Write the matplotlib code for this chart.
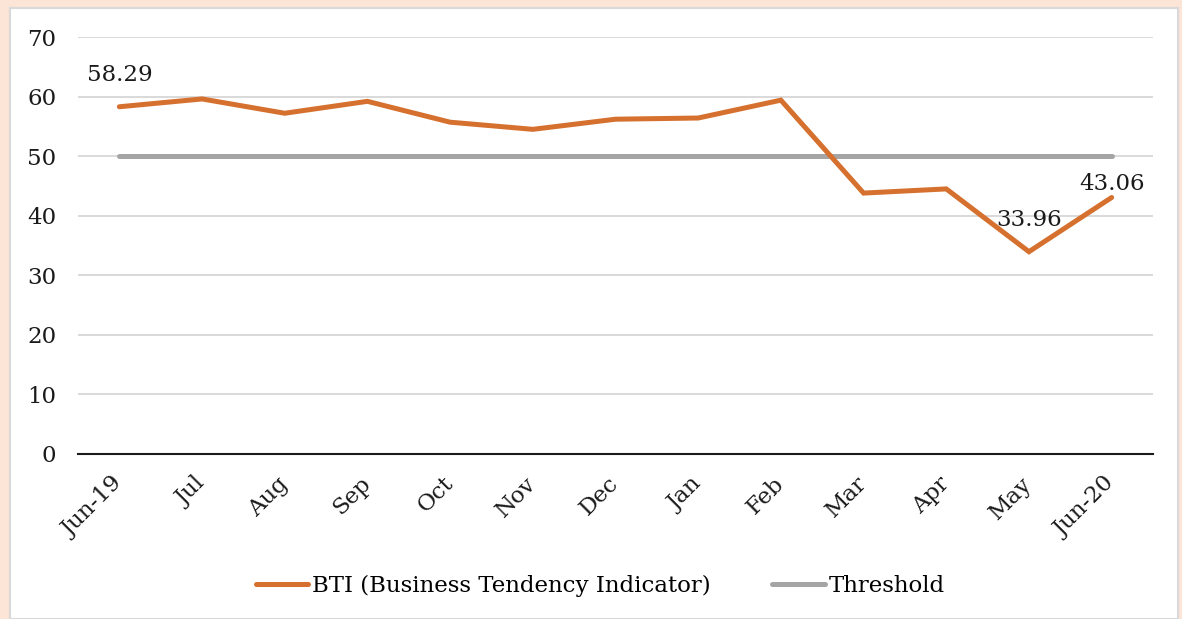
import matplotlib
matplotlib.use("Agg")
import matplotlib.pyplot as plt
from matplotlib.patches import Rectangle

months = ["Jun-19", "Jul", "Aug", "Sep", "Oct", "Nov", "Dec", "Jan", "Feb",
          "Mar", "Apr", "May", "Jun-20"]
bti = [58.29, 59.6, 57.2, 59.2, 55.7, 54.5, 56.2, 56.4, 59.4, 43.8, 44.5, 33.96, 43.06]
threshold = [50] * len(months)
yticks = [0, 10, 20, 30, 40, 50, 60, 70]
labelled = {0: "58.29", 11: "33.96", 12: "43.06"}

plt.rcParams['font.family'] = ['DejaVu Serif']
FS = 16.5

fig = plt.figure(figsize=(11.82, 6.19), dpi=100, facecolor="#fce4d6")
fig.patches.append(Rectangle((10/1182, 0), (1178-10)/1182, 1 - 8/619,
                             transform=fig.transFigure, facecolor="white",
                             edgecolor="#d9d9d9", linewidth=1.5, zorder=-5))

ax = fig.add_axes([78/1182, 1 - 454/619, (1153-78)/1182, (454-37)/619])
ax.set_zorder(2)
ax.set_facecolor("none")
x = list(range(len(months)))
ax.plot(x, bti, color="#d5702e", lw=3.6, solid_capstyle="round",
        solid_joinstyle="miter", label="BTI (Business Tendency Indicator)", zorder=3)
ax.plot(x, threshold, color="#a5a5a5", lw=3.6, solid_capstyle="round",
        label="Threshold", zorder=2)

offsets = {0: 15, 11: 15, 12: 2}
for i, txt in labelled.items():
    ax.annotate(txt, (x[i], bti[i]), xytext=(0, offsets[i]), textcoords="offset points",
                ha="center", va="bottom", fontsize=FS, color="#1a1a1a", zorder=4)

ax.set_xlim(-0.5, len(months) - 0.5)
ax.set_ylim(0, 70)
ax.set_yticks(yticks)
ax.set_yticklabels([str(v) for v in yticks], fontsize=FS)
ax.set_xticks(x)
ax.set_xticklabels(months, fontsize=FS, rotation=45, ha="right",
                   rotation_mode="anchor", va="center")
ax.tick_params(axis="both", length=0, colors="#1a1a1a")
ax.tick_params(axis="y", pad=15.5)
ax.tick_params(axis="x", pad=19)
ax.grid(axis="y", color="#d9d9d9", lw=1.4)
ax.set_axisbelow(True)
for s in ["top", "right", "left"]:
    ax.spines[s].set_visible(False)
ax.spines["bottom"].set_color("#1a1a1a")
ax.spines["bottom"].set_linewidth(1.5)
ax.spines["bottom"].set_zorder(1)

leg = fig.legend(loc="center", bbox_to_anchor=(600/1182, 1 - 586/619), ncol=2, frameon=False,
                 fontsize=FS, handlelength=2.3, handletextpad=0.15, columnspacing=2.7)

fig.savefig("out.png", dpi=100, facecolor=fig.get_facecolor())
